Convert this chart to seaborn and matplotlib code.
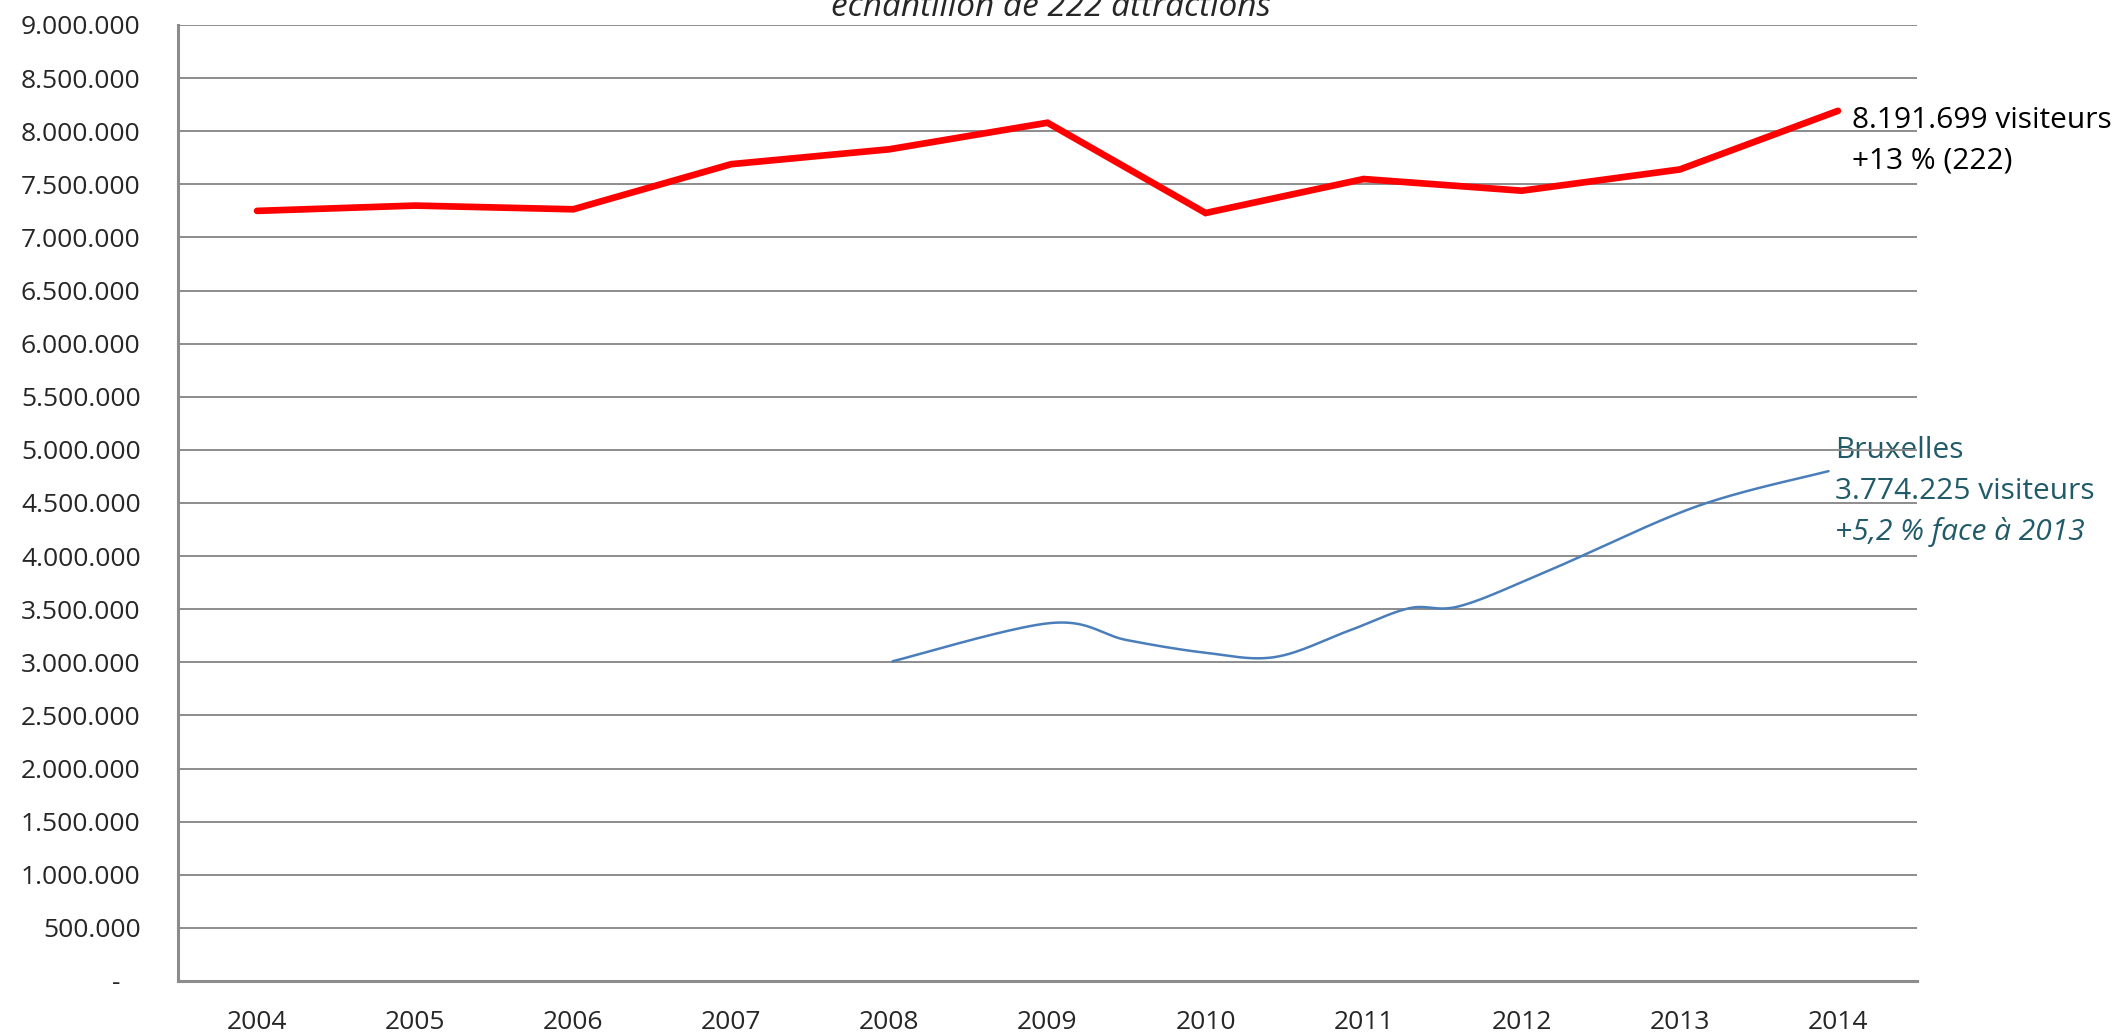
import numpy as np
import pandas as pd
import matplotlib
matplotlib.use("Agg")
import matplotlib.pyplot as plt
import seaborn as sns

# ---------------- data ----------------
years = [2004, 2005, 2006, 2007, 2008, 2009, 2010, 2011, 2012, 2013, 2014]
total_visitors = [7250000, 7300000, 7265000, 7690000, 7830000, 8080000,
                  7230000, 7550000, 7440000, 7640000, 8191699]

# Bruxelles curve (year position, visitors)
bxl_x = [2008.02, 2009.02, 2009.50, 2010.00, 2010.44, 2010.91, 2011.29,
         2011.61, 2012.18, 2013.11, 2013.94]
bxl_y = [3010000, 3370000, 3210000, 3090000, 3050000, 3300000, 3510000,
         3530000, 3870000, 4470000, 4800000]

y_ticks = [0, 500000, 1000000, 1500000, 2000000, 2500000, 3000000, 3500000,
           4000000, 4500000, 5000000, 5500000, 6000000, 6500000, 7000000,
           7500000, 8000000, 8500000, 9000000]

title_text = "échantillon de 222 attractions"
red_note = ["8.191.699 visiteurs", "+13 % (222)"]
blue_note = ["Bruxelles", "3.774.225 visiteurs", "+5,2 % face à 2013"]

# ---------------- style ----------------
sns.set_style("white")
plt.rcParams["font.family"] = ["Open Sans", "DejaVu Sans"]

GRID = "#8c8c8c"
RED = "#ff0000"
BLUE = "#4a7ebb"
TEAL = "#215a69"

fig = plt.figure(figsize=(21.23, 10.35), dpi=100)
ax = fig.add_axes([178 / 2123, 1 - 981 / 1035, (1917 - 178) / 2123, (981 - 25) / 1035])

df = pd.DataFrame({"year": years, "visitors": total_visitors})
sns.lineplot(data=df, x="year", y="visitors", ax=ax, color=RED, linewidth=4.8,
             solid_capstyle="round", solid_joinstyle="miter", zorder=5)


# smooth (Catmull-Rom / Bezier) curve through the Bruxelles points
def smooth(xs, ys, n=40):
    P = np.column_stack([xs, ys]).astype(float)
    out = []
    for i in range(len(P) - 1):
        p0 = P[i - 1] if i > 0 else P[i]
        p1 = P[i]
        p2 = P[i + 1]
        p3 = P[i + 2] if i + 2 < len(P) else P[i + 1]
        c1 = p1 + (p2 - p0) / 6.0
        c2 = p2 - (p3 - p1) / 6.0
        t = np.linspace(0, 1, n, endpoint=(i == len(P) - 2))[:, None]
        b = ((1 - t) ** 3) * p1 + 3 * ((1 - t) ** 2) * t * c1 + 3 * (1 - t) * t ** 2 * c2 + t ** 3 * p2
        out.append(b)
    out = np.vstack(out)
    return out[:, 0], out[:, 1]


sx, sy = smooth(bxl_x, bxl_y)
sns.lineplot(x=sx, y=sy, ax=ax, color=BLUE, linewidth=1.8, sort=False,
             estimator=None, zorder=4)

# axes limits & grid
ax.set_xlim(2003.5, 2014.5)
ax.set_ylim(0, 9000000)
ax.set_yticks(y_ticks)
ax.set_yticklabels([("-   " if v == 0 else f"{v:,}".replace(",", ".")) for v in y_ticks])
ax.yaxis.grid(True, color=GRID, linewidth=1.4)
ax.xaxis.grid(False)
ax.set_axisbelow(True)

# x ticks: boundaries (major) and labels at centres (minor)
ax.set_xticks([y - 0.5 for y in years] + [years[-1] + 0.5])
ax.set_xticklabels([])
ax.set_xticks(years, minor=True)
ax.set_xticklabels([str(y) for y in years], minor=True)
ax.tick_params(axis="x", which="major", length=7, width=1.4, color=GRID, direction="out")
ax.tick_params(axis="x", which="minor", length=0, pad=21, labelsize=19)
ax.tick_params(axis="y", which="major", length=7, width=1.4, color=GRID,
               direction="out", pad=20, labelsize=19)
ax.set_xlabel("")
ax.set_ylabel("")

for s in ["top", "right"]:
    ax.spines[s].set_visible(False)
for s in ["left", "bottom"]:
    ax.spines[s].set_color(GRID)
    ax.spines[s].set_linewidth(2.2)

# annotations
ax.text(2014.09, 8100000, red_note[0], fontsize=21.5, color="black",
        ha="left", va="center", clip_on=False, zorder=1)
ax.text(2014.09, 7720000, red_note[1], fontsize=21.5, color="black",
        ha="left", va="center", clip_on=False, zorder=1)

ax.text(2013.98, 4990000, blue_note[0], fontsize=21.5, color=TEAL,
        ha="left", va="center", clip_on=False, zorder=0)
ax.text(2013.98, 4610000, blue_note[1], fontsize=21.5, color=TEAL,
        ha="left", va="center", clip_on=False, zorder=0)
ax.text(2013.98, 4230000, blue_note[2], fontsize=21.5, color=TEAL, style="italic",
        ha="left", va="center", clip_on=False, zorder=0)

fig.text(1051 / 2123, 1 - 16 / 1035, title_text, fontsize=24, style="italic",
         ha="center", va="baseline")

fig.savefig("out.png", dpi=100)
